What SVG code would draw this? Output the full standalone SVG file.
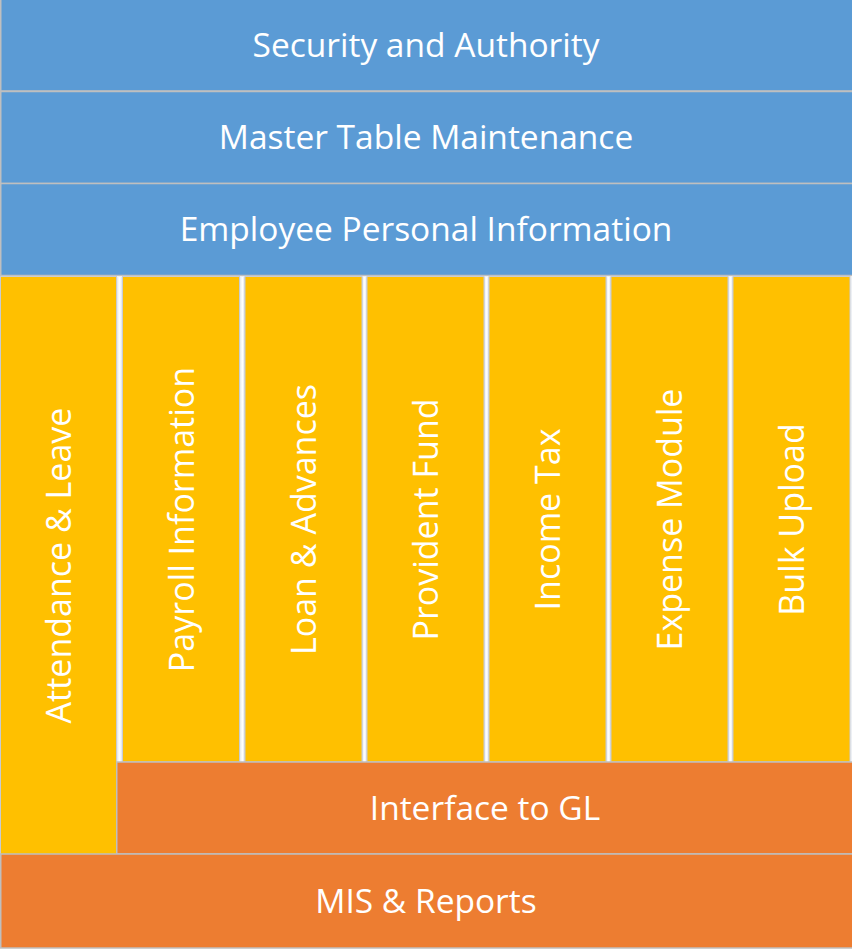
<svg xmlns="http://www.w3.org/2000/svg" width="852" height="949" viewBox="0 0 852 949">
  <defs>
    <linearGradient id="gap" x1="0" y1="0" x2="1" y2="0">
      <stop offset="0" stop-color="#c4c8ce"/>
      <stop offset="0.2" stop-color="#eef1f5"/>
      <stop offset="0.55" stop-color="#ffffff"/>
      <stop offset="0.85" stop-color="#e4e8ee"/>
      <stop offset="1" stop-color="#c4c8ce"/>
    </linearGradient>
  </defs>
  <style>
    .blue { fill: #5B9BD5; stroke: #BFBFBF; stroke-width: 1.5; }
    .yellow { fill: #FFC000; stroke: #C8CCD2; stroke-width: 1; }
    .orange { fill: #ED7D31; stroke: #BFBFBF; stroke-width: 1.5; }
    .gap { fill: url(#gap); }
    .lbl { font-family: "Open Sans", "Liberation Sans", sans-serif; font-size: 33.5px; fill: #ffffff; text-anchor: middle; }
    .vl { font-size: 34px; }
  </style>
  <rect x="0" y="0" width="852" height="949" fill="#ffffff"/>

  <g id="gaps">
    <rect class="gap" x="116.5" y="277" width="6" height="485"/>
    <rect class="gap" x="239.5" y="277" width="5.5" height="485"/>
    <rect class="gap" x="362" y="277" width="5" height="485"/>
    <rect class="gap" x="484" y="277" width="5" height="485"/>
    <rect class="gap" x="606" y="277" width="5" height="485"/>
    <rect class="gap" x="728" y="277" width="5" height="485"/>
    <rect class="gap" x="850" y="277" width="2" height="485"/>
  </g>

  <g id="security">
    <rect class="blue" x="0.75" y="-2" width="853" height="93"/>
    <text class="lbl" x="426" y="57">Security and Authority</text>
  </g>
  <g id="master">
    <rect class="blue" x="0.75" y="91.5" width="853" height="92"/>
    <text class="lbl" x="426" y="149">Master Table Maintenance</text>
  </g>
  <g id="employee">
    <rect class="blue" x="0.75" y="183.5" width="853" height="92"/>
    <text class="lbl" x="426" y="241">Employee Personal Information</text>
  </g>

  <g id="attendance">
    <rect class="yellow" x="0.5" y="276.5" width="116" height="578"/>
    <text class="lbl vl" x="58.5" y="578" transform="rotate(-90 58.5 565.5)">Attendance &amp; Leave</text>
  </g>
  <g id="payroll">
    <rect class="yellow" x="122.5" y="276.5" width="117" height="485.5"/>
    <text class="lbl vl" x="181" y="532" transform="rotate(-90 181 519.5)">Payroll Information</text>
  </g>
  <g id="loan">
    <rect class="yellow" x="245" y="276.5" width="117" height="485.5"/>
    <text class="lbl vl" x="303.5" y="532" transform="rotate(-90 303.5 519.5)">Loan &amp; Advances</text>
  </g>
  <g id="provident">
    <rect class="yellow" x="367" y="276.5" width="117" height="485.5"/>
    <text class="lbl vl" x="425.5" y="532" transform="rotate(-90 425.5 519.5)">Provident Fund</text>
  </g>
  <g id="incometax">
    <rect class="yellow" x="489" y="276.5" width="117" height="485.5"/>
    <text class="lbl vl" x="547.5" y="532" transform="rotate(-90 547.5 519.5)">Income Tax</text>
  </g>
  <g id="expense">
    <rect class="yellow" x="611" y="276.5" width="117" height="485.5"/>
    <text class="lbl vl" x="669.5" y="532" transform="rotate(-90 669.5 519.5)">Expense Module</text>
  </g>
  <g id="bulk">
    <rect class="yellow" x="733" y="276.5" width="117" height="485.5"/>
    <text class="lbl vl" x="791.5" y="532" transform="rotate(-90 791.5 519.5)">Bulk Upload</text>
  </g>

  <g id="interface">
    <rect class="orange" x="116.75" y="762" width="737" height="92"/>
    <text class="lbl" x="485" y="820">Interface to GL</text>
  </g>
  <g id="mis">
    <rect class="orange" x="0.75" y="854" width="853" height="94"/>
    <text class="lbl" x="426" y="913">MIS &amp; Reports</text>
  </g>

  <g id="connectors"></g>
</svg>
